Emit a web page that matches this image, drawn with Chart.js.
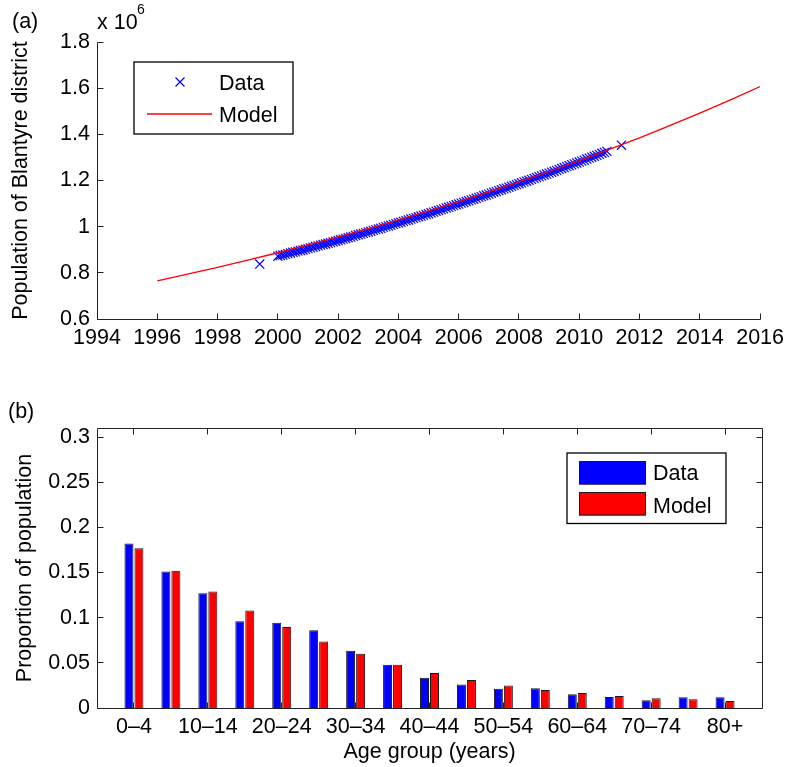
<!DOCTYPE html>
<html>
<head>
<meta charset="utf-8">
<title>Blantyre district population</title>
<script src="https://cdn.jsdelivr.net/npm/chart.js@4.4.1/dist/chart.umd.min.js"></script>
<style>
  html, body { margin: 0; padding: 0; background: #fff; }
  .panel { position: absolute; left: 0; width: 790px; }
</style>
</head>
<body>
<div class="panel" style="top:0;height:380px"><canvas id="popChart"></canvas></div>
<div class="panel" style="top:380px;height:387px"><canvas id="ageChart"></canvas></div>
<script>
// ---- panel (a): population (in millions, axis is x 10^6) ----
const modelYears = [1996, 1997, 1998, 1999, 2000, 2001, 2002, 2003, 2004, 2005, 2006,
                    2007, 2008, 2009, 2010, 2011, 2012, 2013, 2014, 2015, 2016];
const modelPop = [0.765, 0.794, 0.824, 0.855, 0.887, 0.921, 0.956, 0.992, 1.029, 1.068, 1.109,
                  1.151, 1.194, 1.239, 1.286, 1.335, 1.385, 1.438, 1.492, 1.548, 1.607];

// monthly data points, one row per year (Jan..Dec)
const dataYears = [2000, 2001, 2002, 2003, 2004, 2005, 2006, 2007, 2008, 2009, 2010];
const dataMonthly = [
  [0.872, 0.875, 0.877, 0.880, 0.883, 0.886, 0.889, 0.891, 0.894, 0.897, 0.899, 0.902],
  [0.905, 0.908, 0.911, 0.914, 0.917, 0.920, 0.923, 0.925, 0.928, 0.931, 0.934, 0.937],
  [0.940, 0.943, 0.946, 0.949, 0.952, 0.955, 0.958, 0.962, 0.965, 0.968, 0.971, 0.974],
  [0.977, 0.980, 0.984, 0.987, 0.990, 0.993, 0.997, 1.000, 1.003, 1.006, 1.010, 1.013],
  [1.016, 1.019, 1.023, 1.026, 1.029, 1.033, 1.036, 1.039, 1.043, 1.046, 1.049, 1.053],
  [1.056, 1.060, 1.063, 1.067, 1.070, 1.074, 1.077, 1.081, 1.084, 1.088, 1.091, 1.095],
  [1.098, 1.102, 1.105, 1.109, 1.112, 1.116, 1.119, 1.123, 1.127, 1.130, 1.134, 1.137],
  [1.141, 1.145, 1.149, 1.152, 1.156, 1.160, 1.164, 1.167, 1.171, 1.175, 1.179, 1.182],
  [1.186, 1.190, 1.194, 1.197, 1.201, 1.205, 1.209, 1.213, 1.217, 1.220, 1.224, 1.228],
  [1.232, 1.236, 1.240, 1.244, 1.248, 1.252, 1.256, 1.260, 1.264, 1.268, 1.272, 1.276],
  [1.280, 1.284, 1.288, 1.293, 1.297, 1.301, 1.305, 1.309, 1.313, 1.318, 1.322, 1.326]
];
// the two isolated census points
const extraYears = [1999.4, 2011.4];
const extraPop = [0.838, 1.353];

const popTicksX = { min: 1994, max: 2016, step: 2 };
const popTicksY = { min: 0.6, max: 1.8, step: 0.2 };

// ---- panel (b): age structure ----
const ageGroups = ['0–4', '5–9', '10–14', '15–19', '20–24', '25–29', '30–34', '35–39', '40–44',
                   '45–49', '50–54', '55–59', '60–64', '65–69', '70–74', '75–79', '80+'];
const ageData = [0.182, 0.151, 0.127, 0.096, 0.0945, 0.086, 0.0635, 0.048, 0.0336,
                 0.026, 0.0214, 0.0218, 0.0152, 0.0122, 0.0085, 0.0118, 0.0118];
const ageModel = [0.177, 0.152, 0.129, 0.108, 0.0897, 0.0735, 0.060, 0.048, 0.0388,
                  0.031, 0.0248, 0.020, 0.0166, 0.0133, 0.0107, 0.0096, 0.0077];

const FONT = "'Liberation Sans', Arial, Helvetica, sans-serif";
const FONT_SIZE = 21.5;
Chart.defaults.font.family = FONT;
Chart.defaults.font.size = FONT_SIZE;
Chart.defaults.color = '#000';

// matlab style axes: inner ticks, optional full box
function makeAxes(box) {
  return {
    id: 'matlabAxes',
    afterDatasetsDraw(chart) {
      const { ctx, chartArea: a, scales } = chart;
      const len = 6;
      const snap = v => Math.floor(v) + 0.5;
      const L = snap(a.left), R = snap(a.right), T = snap(a.top), B = snap(a.bottom);
      ctx.save();
      ctx.strokeStyle = '#222';
      ctx.lineWidth = 1;
      ctx.beginPath();
      ctx.moveTo(L, T); ctx.lineTo(L, B); ctx.lineTo(R, B);
      if (box) { ctx.lineTo(R, T); ctx.lineTo(L, T); }
      scales.x.ticks.forEach(t => {
        const px = snap(scales.x.getPixelForValue(t.value));
        ctx.moveTo(px, B); ctx.lineTo(px, B - len);
        if (box) { ctx.moveTo(px, T); ctx.lineTo(px, T + len); }
      });
      scales.y.ticks.forEach(t => {
        const py = snap(scales.y.getPixelForValue(t.value));
        ctx.moveTo(L, py); ctx.lineTo(L + len, py);
        if (box) { ctx.moveTo(R, py); ctx.lineTo(R - len, py); }
      });
      ctx.stroke();
      ctx.restore();
    }
  };
}

// legend box drawn inside the plot
function makeLegend(cfg) {
  return {
    id: 'boxLegend',
    afterDraw(chart) {
      const ctx = chart.ctx;
      const [x1, y1, x2, y2] = cfg.box;
      ctx.save();
      ctx.fillStyle = '#fff';
      ctx.fillRect(x1, y1, x2 - x1, y2 - y1);
      ctx.strokeStyle = '#000';
      ctx.lineWidth = 1.3;
      ctx.strokeRect(x1, y1, x2 - x1, y2 - y1);
      ctx.font = FONT_SIZE + 'px ' + FONT;
      ctx.textBaseline = 'alphabetic';
      cfg.items.forEach(it => {
        const ds = chart.data.datasets[it.dataset];
        if (it.kind === 'cross') {
          const h = 4.5;
          ctx.strokeStyle = ds.borderColor;
          ctx.lineWidth = ds.borderWidth;
          ctx.beginPath();
          ctx.moveTo(it.x - h, it.y - h); ctx.lineTo(it.x + h, it.y + h);
          ctx.moveTo(it.x - h, it.y + h); ctx.lineTo(it.x + h, it.y - h);
          ctx.stroke();
        } else if (it.kind === 'line') {
          ctx.strokeStyle = ds.borderColor;
          ctx.lineWidth = ds.borderWidth;
          ctx.beginPath();
          ctx.moveTo(it.x, it.y); ctx.lineTo(it.x2, it.y);
          ctx.stroke();
        } else {
          ctx.fillStyle = ds.backgroundColor;
          ctx.fillRect(it.x, it.y, it.w, it.h);
          ctx.strokeStyle = ds.borderColor;
          ctx.lineWidth = 1;
          ctx.strokeRect(it.x + 0.5, it.y + 0.5, it.w - 1, it.h - 1);
        }
        ctx.fillStyle = '#000';
        ctx.fillText(ds.label, it.textX, it.baseline);
      });
      ctx.restore();
    }
  };
}

// loose labels: panel letters and exponent
function makeNotes(notes) {
  return {
    id: 'notes',
    afterDraw(chart) {
      const ctx = chart.ctx;
      ctx.save();
      ctx.fillStyle = '#000';
      ctx.textBaseline = 'alphabetic';
      notes.forEach(n => {
        ctx.font = n.size + 'px ' + FONT;
        ctx.fillText(n.text, n.x, n.y);
      });
      ctx.restore();
    }
  };
}

const dataPoints = [];
dataPoints.push({ x: extraYears[0], y: extraPop[0] });
dataYears.forEach((yr, r) => {
  dataMonthly[r].forEach((v, m) => dataPoints.push({ x: yr + m / 12, y: v }));
});
dataPoints.push({ x: extraYears[1], y: extraPop[1] });

new Chart(document.getElementById('popChart'), {
  type: 'scatter',
  data: {
    datasets: [
      {
        label: 'Model',
        data: modelYears.map((yr, i) => ({ x: yr, y: modelPop[i] })),
        showLine: true,
        borderColor: '#ff0000',
        borderWidth: 1.3,
        pointRadius: 0,
        order: 0
      },
      {
        label: 'Data',
        data: dataPoints,
        pointStyle: 'crossRot',
        pointRadius: 6.4,
        borderColor: '#0000ff',
        backgroundColor: '#0000ff',
        borderWidth: 1.2,
        order: 1
      }
    ]
  },
  options: {
    responsive: true,
    maintainAspectRatio: false,
    devicePixelRatio: 1,
    animation: false,
    events: [],
    layout: { padding: { left: 0, right: 28, top: 42, bottom: 0 } },
    plugins: { legend: { display: false }, tooltip: { enabled: false } },
    scales: {
      x: {
        type: 'linear',
        min: popTicksX.min, max: popTicksX.max,
        ticks: { stepSize: popTicksX.step, padding: 6, maxRotation: 0, callback: v => String(v) },
        grid: { display: false, drawTicks: false },
        border: { display: false },
        afterFit: s => { s.height = 61; }
      },
      y: {
        min: popTicksY.min, max: popTicksY.max,
        ticks: { stepSize: popTicksY.step, padding: 7, callback: v => String(Math.round(v * 10) / 10) },
        grid: { display: false, drawTicks: false },
        border: { display: false },
        title: { display: true, text: 'Population of Blantyre district', padding: { top: 8, bottom: 0 } },
        afterFit: s => { s.width = 97; }
      }
    }
  },
  plugins: [
    makeAxes(false),
    makeLegend({
      box: [134, 62, 293, 134],
      items: [
        { dataset: 1, kind: 'cross', x: 180, y: 82, textX: 219, baseline: 90 },
        { dataset: 0, kind: 'line', x: 147, x2: 212, y: 114, textX: 219, baseline: 121.5 }
      ]
    }),
    makeNotes([
      { text: '(a)', x: 12, y: 28, size: FONT_SIZE },
      { text: 'x 10', x: 97, y: 28.5, size: FONT_SIZE },
      { text: '6', x: 137, y: 13.5, size: 14 }
    ])
  ]
});

new Chart(document.getElementById('ageChart'), {
  type: 'bar',
  data: {
    datasets: [
      {
        label: 'Data',
        data: ageData.map((v, i) => ({ x: i, y: v })),
        backgroundColor: '#0000ff',
        borderColor: '#1a1a1a',
        borderWidth: 1
      },
      {
        label: 'Model',
        data: ageModel.map((v, i) => ({ x: i, y: v })),
        backgroundColor: '#ff0000',
        borderColor: '#1a1a1a',
        borderWidth: 1
      }
    ]
  },
  options: {
    responsive: true,
    maintainAspectRatio: false,
    devicePixelRatio: 1,
    animation: false,
    events: [],
    layout: { padding: { left: 0, right: 28, top: 48, bottom: 0 } },
    datasets: { bar: { categoryPercentage: 0.54, barPercentage: 0.9 } },
    plugins: { legend: { display: false }, tooltip: { enabled: false } },
    scales: {
      x: {
        type: 'linear',
        min: -1, max: ageGroups.length,
        offset: false,
        afterBuildTicks: s => {
          s.ticks = ageGroups.map((g, i) => ({ value: i })).filter(t => t.value % 2 === 0);
        },
        ticks: { padding: 6, maxRotation: 0, autoSkip: false, callback: v => ageGroups[v] },
        grid: { display: false, drawTicks: false },
        border: { display: false },
        title: { display: true, text: 'Age group (years)', padding: { top: 0, bottom: 2 } },
        afterFit: s => { s.height = 59; }
      },
      y: {
        min: 0, max: 0.31,
        ticks: { stepSize: 0.05, includeBounds: false, padding: 7, callback: v => String(Math.round(v * 100) / 100) },
        grid: { display: false, drawTicks: false },
        border: { display: false },
        title: { display: true, text: 'Proportion of population', padding: { top: 12, bottom: 0 } },
        afterFit: s => { s.width = 97; }
      }
    }
  },
  plugins: [
    makeAxes(true),
    makeLegend({
      box: [567, 73, 726, 143.5],
      items: [
        { dataset: 0, kind: 'patch', x: 579, y: 81, w: 67, h: 23.5, textX: 653, baseline: 100 },
        { dataset: 1, kind: 'patch', x: 579, y: 112, w: 67, h: 23.5, textX: 653, baseline: 132.5 }
      ]
    }),
    makeNotes([
      { text: '(b)', x: 8, y: 37.5, size: FONT_SIZE }
    ])
  ]
});
</script>
</body>
</html>
